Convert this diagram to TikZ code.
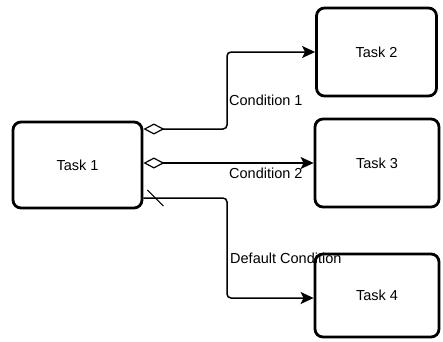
\documentclass[tikz,border=0pt]{standalone}
\usepackage{fontspec}
\setmainfont{Liberation Sans}
\usetikzlibrary{arrows.meta,calc}
\begin{document}
\begin{tikzpicture}[x=1pt,y=-1pt,
  task/.style={draw, line width=2.8pt, rounded corners=8pt, inner sep=0pt,
    font=\fontsize{14.5}{16}\selectfont},
  flow/.style={line width=1.5pt, rounded corners=4pt},
  cond/.style={font=\fontsize{14.5}{16}\selectfont, anchor=west, inner sep=0pt},
  gateway/.style={{Diamond[open,length=21pt,width=11pt,line width=1.2pt]}-{Stealth[length=13pt,width=12pt,inset=3pt]}},
  plain/.style={-{Stealth[length=13pt,width=12pt,inset=3pt]}}]
\useasboundingbox (0,0) rectangle (443,341);

% tasks
\node[task, minimum width=129pt, minimum height=86pt] (t1) at (77.5,165) {Task 1};
\node[task, minimum width=120pt, minimum height=88pt] (t2) at (376.5,52) {Task 2};
\node[task, minimum width=124pt, minimum height=88pt] (t3) at (377,163) {Task 3};
\node[task, minimum width=124pt, minimum height=83pt] (t4) at (377,295.5) {Task 4};

% branch points on Task 1
\coordinate (s1) at ($(t1.east)+(0,-36)$);
\coordinate (s2) at ($(t1.east)+(0,-2)$);
\coordinate (s3) at ($(t1.east)+(0,33)$);
\coordinate (e4) at ($(t4.west)+(0,2.5)$);
\coordinate (bend) at (227,0);

% conditional flows
\draw[flow, gateway] (s1) -| (bend |- t2.west) -- (t2.west);
\draw[flow, gateway] (s2) -- (s2 -| t3.west);
% default flow with its slash marker
\draw[flow, plain] (s3) -| (bend |- e4) -- (e4);
\draw[line width=1.2pt] ($(s3)+(4,-8)$) -- ($(s3)+(20,8)$);

% labels
\node[cond] (l1) at (229,100) {Condition 1};
\node[cond] (l2) at (229,173) {Condition 2};
\node[cond] (l3) at (230,258) {Default Condition};
\end{tikzpicture}
\end{document}
